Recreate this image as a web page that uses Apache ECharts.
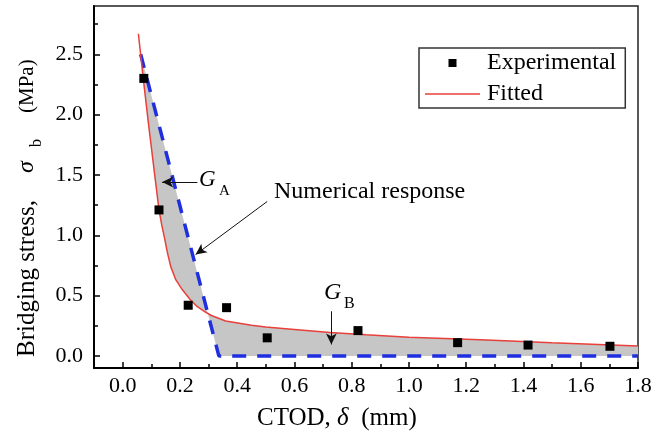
<!DOCTYPE html>
<html>
<head>
<meta charset="utf-8">
<title></title>
<script src="https://cdn.jsdelivr.net/npm/echarts@6/dist/echarts.min.js"></script>
<style>
  html, body { margin: 0; padding: 0; background: #fff; }
  #chart { width: 657px; height: 436px; }
</style>
</head>
<body>
<div id="chart"></div>
<script>
// experimental points (CTOD mm, stress MPa)
var expX = [0.074, 0.127, 0.229, 0.363, 0.505, 0.822, 1.170, 1.416, 1.702];
var expY = [2.30, 1.21, 0.42, 0.40, 0.15, 0.21, 0.11, 0.09, 0.08];

// fitted curve
var fitX = [0.055, 0.072, 0.090, 0.112, 0.127, 0.137, 0.146, 0.156, 0.168, 0.186, 0.208, 0.235, 0.260,
            0.285, 0.310, 0.360, 0.450, 0.500, 0.600, 0.725, 0.850, 1.000, 1.250, 1.500, 1.800];
var fitY = [2.67, 2.30, 1.93, 1.50, 1.21, 1.08, 0.98, 0.86, 0.74, 0.63, 0.55, 0.47, 0.41,
            0.37, 0.335, 0.29, 0.255, 0.24, 0.22, 0.195, 0.175, 0.155, 0.135, 0.11, 0.082];

// numerical response (bilinear)
var numX = [0.063, 0.336, 1.8];
var numY = [2.5, 0, 0];

var xLabels = [0, 0.2, 0.4, 0.6, 0.8, 1.0, 1.2, 1.4, 1.6, 1.8];
var xMinor = [0.1, 0.3, 0.5, 0.7, 0.9, 1.1, 1.3, 1.5, 1.7];
var yLabels = [0, 0.5, 1.0, 1.5, 2.0, 2.5];
var yMinor = [0.25, 0.75, 1.25, 1.75, 2.25, 2.75];

var serif = 'Liberation Serif';

function pairs(xs, ys) {
  return xs.map(function (x, i) { return [x, ys[i]]; });
}

// gray area between numerical and fitted curves
var area = pairs(numX, numY);
for (var i = fitX.length - 1; i >= 0; i--) {
  if (fitY[i] <= numY[0]) area.push([fitX[i], fitY[i]]);
}

var myChart = echarts.init(document.getElementById('chart'));

var tickLabel = { color: '#000', fontFamily: serif, fontSize: 22 };

var option = {
  animation: false,
  grid: {
    left: 94, right: 19, top: 6, bottom: 68,
    show: true, borderColor: '#222', borderWidth: 1.5
  },
  xAxis: [{
    type: 'value', min: -0.1, max: 1.8,
    splitLine: { show: false },
    axisLine: { onZero: false, lineStyle: { color: '#000', width: 2 } },
    axisTick: { inside: true, length: 6, customValues: xLabels, lineStyle: { color: '#000', width: 1.5 } },
    axisLabel: Object.assign({ customValues: xLabels, margin: 7, formatter: function (v) { return v.toFixed(1); } }, tickLabel)
  }, {
    type: 'value', min: -0.1, max: 1.8, position: 'bottom',
    splitLine: { show: false },
    axisLine: { show: false, onZero: false },
    axisTick: { inside: true, length: 4, customValues: xMinor, lineStyle: { color: '#000', width: 1.5 } },
    axisLabel: { show: false }
  }],
  yAxis: [{
    type: 'value', min: -0.1, max: 2.9,
    splitLine: { show: false },
    axisLine: { onZero: false, lineStyle: { color: '#000', width: 2 } },
    axisTick: { inside: true, length: 6, customValues: yLabels, lineStyle: { color: '#000', width: 1.5 } },
    axisLabel: Object.assign({ customValues: yLabels, margin: 11, formatter: function (v) { return v.toFixed(1); } }, tickLabel)
  }, {
    type: 'value', min: -0.1, max: 2.9, position: 'left',
    splitLine: { show: false },
    axisLine: { show: false, onZero: false },
    axisTick: { inside: true, length: 4, customValues: yMinor, lineStyle: { color: '#000', width: 1.5 } },
    axisLabel: { show: false }
  }],
  legend: {
    orient: 'vertical',
    left: 419, top: 48,
    padding: [3, 9, 2, 6],
    borderColor: '#333', borderWidth: 1.5,
    itemWidth: 55, itemHeight: 8, itemGap: 7,
    symbolKeepAspect: true,
    textStyle: { color: '#000', fontFamily: serif, fontSize: 24, lineHeight: 24, padding: [0, 0, 0, 2] },
    data: [
      { name: 'Experimental', icon: 'path://M0 0H8V8H0Z' },
      { name: 'Fitted', icon: 'path://M0 0H55V1.5H0Z' }
    ]
  },
  graphic: [
    {
      type: 'group', x: 27, y: 357, rotation: Math.PI / 2,
      children: [
        { type: 'text', x: 0, y: 0, style: { text: 'Bridging stress,', fontFamily: serif, fontSize: 25, fill: '#000', align: 'left', verticalAlign: 'middle' } },
        { type: 'text', x: 184, y: 0, style: { text: 'σ', fontFamily: serif, fontStyle: 'italic', fontSize: 24, fill: '#000', align: 'left', verticalAlign: 'middle' } },
        { type: 'text', x: 210, y: 10, style: { text: 'b', fontFamily: serif, fontSize: 16, fill: '#000', align: 'left', verticalAlign: 'middle' } },
        { type: 'text', x: 244, y: 0, style: { text: '(MPa)', fontFamily: serif, fontSize: 21, fill: '#000', align: 'left', verticalAlign: 'middle' } }
      ]
    },
    {
      type: 'text', left: 257, top: 406,
      style: {
        text: '{n|CTOD, }{i|δ}{n|  (mm)}',
        rich: {
          n: { fontFamily: serif, fontSize: 25, fill: '#000' },
          i: { fontFamily: serif, fontSize: 25, fontStyle: 'italic', fill: '#000' }
        }
      }
    },
    { type: 'text', x: 199, y: 180, style: { text: 'G', fontFamily: serif, fontStyle: 'italic', fontSize: 23, fill: '#000', verticalAlign: 'middle' } },
    { type: 'text', x: 219, y: 191, style: { text: 'A', fontFamily: serif, fontSize: 15, fill: '#000', verticalAlign: 'middle' } },
    { type: 'text', x: 274, y: 192, style: { text: 'Numerical response', fontFamily: serif, fontSize: 24, fill: '#000', verticalAlign: 'middle' } },
    { type: 'text', x: 324, y: 293, style: { text: 'G', fontFamily: serif, fontStyle: 'italic', fontSize: 24, fill: '#000', verticalAlign: 'middle' } },
    { type: 'text', x: 344, y: 304, style: { text: 'B', fontFamily: serif, fontSize: 16, fill: '#000', verticalAlign: 'middle' } }
  ],
  series: [
    {
      name: 'area',
      type: 'custom',
      z: 1,
      silent: true,
      clip: true,
      data: area,
      renderItem: function (params, api) {
        if (params.dataIndex !== 0) return;
        var pts = area.map(function (p) { return api.coord(p); });
        return { type: 'polygon', shape: { points: pts }, style: { fill: '#c6c6c6' } };
      }
    },
    {
      name: 'Numerical',
      type: 'line',
      z: 2,
      data: pairs(numX, numY),
      showSymbol: false,
      symbol: 'none',
      lineStyle: { color: '#1f2fe0', width: 3.5, type: [14, 11] }
    },
    {
      name: 'Fitted',
      type: 'line',
      z: 3,
      data: pairs(fitX, fitY),
      showSymbol: false,
      symbol: 'none',
      itemStyle: { color: '#e8403a' },
      lineStyle: { color: '#e8403a', width: 1.5 }
    },
    {
      name: 'Experimental',
      type: 'scatter',
      z: 4,
      data: pairs(expX, expY),
      symbol: 'rect',
      symbolSize: 9,
      itemStyle: { color: '#000', opacity: 1 },
      markLine: {
        silent: true,
        symbol: ['none', 'arrow'],
        symbolSize: [8, 11],
        label: { show: false },
        lineStyle: { color: '#111', width: 1, type: 'solid' },
        data: [
          [{ coord: [0.261, 1.441] }, { coord: [0.138, 1.441] }],
          [{ coord: [0.505, 1.280] }, { coord: [0.255, 0.840] }],
          [{ coord: [0.729, 0.370] }, { coord: [0.729, 0.095] }]
        ]
      }
    }
  ]
};

myChart.setOption(option);
</script>
</body>
</html>
